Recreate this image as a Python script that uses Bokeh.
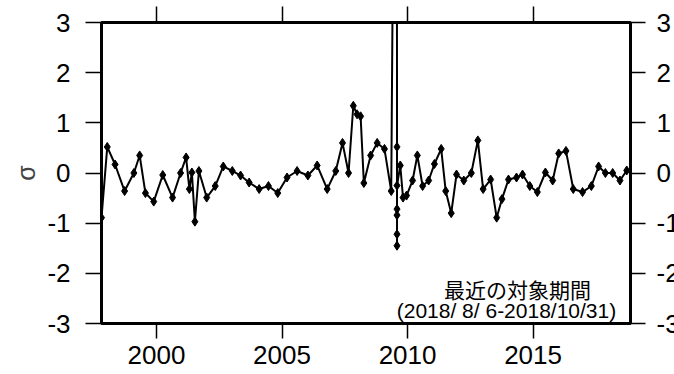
from bokeh.plotting import figure
from bokeh.models import Range1d, FixedTicker, LinearAxis, Label
from bokeh.layouts import row
from bokeh.core.properties import value
from bokeh.embed import file_html
from bokeh.resources import INLINE

# ---- data ----
years = [1997.81, 1998.04, 1998.35, 1998.73, 1999.10, 1999.33, 1999.56, 1999.89,
         2000.25, 2000.64, 2000.96, 2001.18, 2001.31, 2001.41, 2001.53, 2001.69,
         2002.00, 2002.34, 2002.66, 2003.02, 2003.35, 2003.69, 2004.09, 2004.46,
         2004.83, 2005.20, 2005.60, 2006.03, 2006.40, 2006.80, 2007.14, 2007.41,
         2007.65, 2007.84, 2007.99, 2008.13, 2008.26, 2008.53, 2008.79, 2009.08,
         2009.35, 2009.57, 2009.58, 2009.58, 2009.58, 2009.58, 2009.58, 2009.58,
         2009.71, 2009.82, 2009.96, 2010.20, 2010.39, 2010.60, 2010.84, 2011.07,
         2011.34, 2011.52, 2011.74, 2011.95, 2012.24, 2012.54, 2012.80, 2013.01,
         2013.31, 2013.55, 2013.76, 2014.02, 2014.34, 2014.58, 2014.87, 2015.17,
         2015.49, 2015.78, 2016.02, 2016.31, 2016.60, 2016.97, 2017.32, 2017.61,
         2017.88, 2018.17, 2018.46, 2018.73]
sigma = [-0.89, 0.52, 0.17, -0.36, 0.00, 0.35, -0.40, -0.57,
         -0.04, -0.49, 0.00, 0.31, -0.32, 0.01, -0.97, 0.04,
         -0.49, -0.26, 0.13, 0.04, -0.05, -0.19, -0.32, -0.26,
         -0.40, -0.09, 0.04, -0.05, 0.15, -0.32, 0.04, 0.60,
         0.00, 1.34, 1.17, 1.13, -0.20, 0.35, 0.60, 0.48,
         -0.36, 15.0, 0.52, -1.45, -1.22, -0.84, -0.72, -0.25,
         0.15, -0.49, -0.45, -0.15, 0.35, -0.26, -0.15, 0.18,
         0.48, -0.36, -0.80, -0.03, -0.15, 0.00, 0.65, -0.32,
         -0.13, -0.89, -0.52, -0.13, -0.09, -0.03, -0.26, -0.38,
         0.01, -0.15, 0.39, 0.44, -0.32, -0.38, -0.26, 0.13,
         0.00, 0.00, -0.15, 0.05]

x_ticks = [2000, 2005, 2010, 2015]
x_tick_labels = ["2000", "2005", "2010", "2015"]
y_ticks = [-3, -2, -1, 0, 1, 2, 3]
y_tick_labels = ["-3", "-2", "-1", "0", "1", "2", "3"]
y_label = "σ"
note_title = "最近の対象期間"
note_period = "(2018/ 8/ 6-2018/10/31)"

FONT = "Liberation Sans"
TICK_FS = "26px"

W, H = 674, 374
FL, FT, FW, FH = 101, 22, 529, 301      # frame left/top/width/height (px)
MAIN_W = FL + FW + 16

p = figure(width=MAIN_W, height=H, output_backend="svg", toolbar_location=None,
           x_range=Range1d(1997.81, 2018.88), y_range=Range1d(-3, 3),
           x_axis_location=None, y_axis_location=None,
           min_border_left=FL, min_border_right=MAIN_W - FL - FW,
           min_border_top=FT, min_border_bottom=H - FT - FH)
p.xgrid.visible = False
p.ygrid.visible = False
p.outline_line_color = "black"
p.outline_line_width = 3
p.background_fill_color = "white"
p.border_fill_color = "white"


def style(ax):
    ax.axis_line_color = None
    ax.major_tick_in = 0
    ax.major_tick_out = 15
    ax.major_tick_line_width = 1.5
    ax.major_tick_line_color = "black"
    ax.minor_tick_in = 0
    ax.minor_tick_out = 15
    ax.minor_tick_line_width = 1.5
    ax.minor_tick_line_color = "black"
    ax.major_label_text_font = FONT
    ax.major_label_text_color = "black"
    ax.major_label_text_font_size = TICK_FS


bottom = LinearAxis(ticker=FixedTicker(ticks=x_ticks),
                    major_label_overrides=dict(zip(x_ticks, x_tick_labels)))
style(bottom)
bottom.minor_tick_line_color = None
bottom.major_label_standoff = 7

# tick-only axes (ticks drawn as minor ticks, so no labels)
top = LinearAxis(ticker=FixedTicker(ticks=[], minor_ticks=x_ticks))
style(top)
top.minor_tick_out = 16

left = LinearAxis(ticker=FixedTicker(ticks=y_ticks),
                  major_label_overrides=dict(zip(y_ticks, y_tick_labels)),
                  axis_label=y_label)
style(left)
left.major_tick_out = 16
left.minor_tick_line_color = None
left.major_label_standoff = 15
left.axis_label_text_font = FONT
left.axis_label_text_font_size = "25px"
left.axis_label_text_font_style = "normal"
left.axis_label_standoff = 4

right = LinearAxis(ticker=FixedTicker(ticks=[], minor_ticks=y_ticks))
style(right)

p.add_layout(bottom, "below")
p.add_layout(top, "above")
p.add_layout(left, "left")
p.add_layout(right, "right")

p.line(years, sigma, line_color="black", line_width=2)
p.scatter(years, sigma, marker="diamond", size=9, fill_color="black", line_color="black")

p.add_layout(Label(x=2014.38, y=-2.32, text=note_title, text_font="Noto Sans CJK JP",
                   text_font_size="21px", text_align="center", text_baseline="middle",
                   text_color="black"))
p.add_layout(Label(x=2013.94, y=-2.75, text=note_period, text_font=FONT,
                   text_font_size="21px", text_align="center", text_baseline="middle",
                   text_color="black"))

# right-hand tick labels: a narrow strip sharing the y scale; the window edge
# cuts the labels as in the reference
pr = figure(width=W - MAIN_W, height=H, output_backend="svg", toolbar_location=None,
            x_range=Range1d(0, W - MAIN_W), y_range=p.y_range,
            x_axis_location=None, y_axis_location=None,
            min_border_left=0, min_border_right=0,
            min_border_top=FT, min_border_bottom=H - FT - FH)
pr.xgrid.visible = False
pr.ygrid.visible = False
pr.outline_line_color = None
pr.text(x=[10] * len(y_ticks), y=y_ticks, text=y_tick_labels,
        text_font=value(FONT), text_font_size=value(TICK_FS),
        text_align="left", text_baseline="middle", text_color="black",
        level="overlay")

layout = row(p, pr)
open("out.html", "w").write(file_html(layout, INLINE))
